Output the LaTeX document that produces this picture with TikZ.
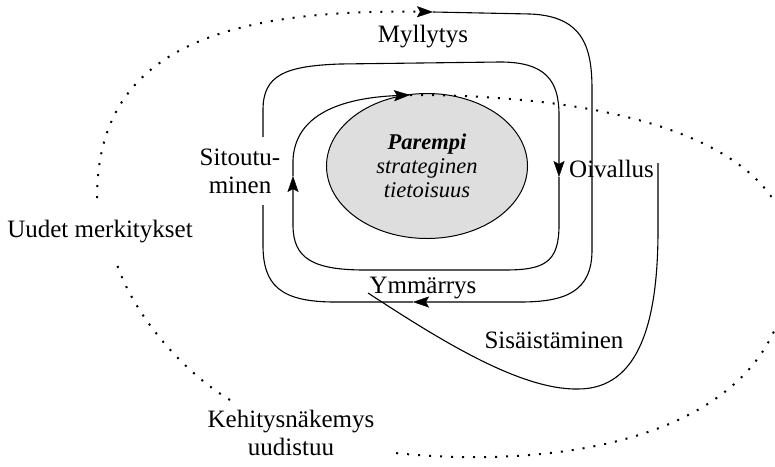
\documentclass[tikz,border=0pt]{standalone}
\usepackage{fontspec}
\setmainfont{Liberation Serif}
\usetikzlibrary{arrows.meta,shapes.geometric}
\begin{document}
\begin{tikzpicture}[x=1pt,y=-1pt,
  flow/.style={line width=1.1pt},
  tip/.style={-{Stealth[length=16pt,width=11pt,inset=3pt,line width=0.4pt]}},
  dots/.style={line width=2pt, dash pattern=on 2pt off 9pt},
  lbl/.style={font=\fontsize{25}{28}\selectfont, inner sep=0pt},
]
\useasboundingbox (0,0) rectangle (775,466);
\clip (0,0) rectangle (775,466);

% central goal
\node[ellipse, draw, line width=1pt, fill=black!13, minimum width=201pt,
      minimum height=145pt, inner sep=0pt, align=center,
      font=\fontsize{22.5}{24}\selectfont\itshape] (core) at (427,166)
      {\textbf{Parempi}\\strateginen\\tietoisuus};

% turning points of the spiral
\coordinate (inA)   at (433,12);
\coordinate (ymA)   at (413,302);
\coordinate (oiA)   at (559,177);
\coordinate (siA)   at (293,176);
\coordinate (coreA) at (410,95);
\coordinate (sisS)  at (368,293);
\coordinate (sisE)  at (658,163);
\coordinate (kehE)  at (395,453);
\coordinate (kehS)  at (230,400);
\coordinate (uuE)   at (115,258);
\coordinate (uuS)   at (97,198);

% solid spiral, outer turn to the core
\draw[flow,tip] (inA) -- (530,14) .. controls (585,16) and (592,50) .. (592,90)
  -- (592,250) .. controls (592,292) and (565,302) .. (520,302) -- (ymA);
\draw[flow,tip] (ymA) -- (335,302) .. controls (280,302) and (263,285) .. (263,245)
  -- (263,110) .. controls (263,75) and (285,66) .. (340,64)
  -- (500,62) .. controls (545,62) and (559,80) .. (559,115) -- (oiA);
\draw[flow,tip] (oiA) -- (559,225) .. controls (559,262) and (545,270) .. (505,270)
  -- (365,270) .. controls (312,270) and (293,258) .. (293,225) -- (siA);
\draw[flow,tip] (siA) -- (293,160) .. controls (295,115) and (340,98) .. (coreA);

% internalisation loop
\draw[flow] (sisS) .. controls (440,340) and (520,390) .. (578,389)
  .. controls (640,389) and (658,320) .. (658,230) -- (sisE);

% dotted outer path
\draw[dots] (coreA) .. controls (650,95) and (790,155) .. (790,255)
  .. controls (790,440) and (560,470) .. (kehE);
\draw[dots] (kehS) .. controls (180,370) and (130,310) .. (uuE);
\draw[dots,tip] (uuS) .. controls (97,65) and (195,8) .. (inA);

% labels
\node[lbl, anchor=base] (myl) at (423,42) {Myllytys};
\node[lbl, anchor=base west] (oiv) at (569,177) {Oivallus};
\node[lbl, anchor=base] (ymm) at (423,293) {Ymmärrys};
\node[lbl, anchor=base] (sis) at (554,348) {Sisäistäminen};
\node[lbl, anchor=base] (uud) at (100,237) {Uudet merkitykset};
\node[lbl, align=center] (keh) at (291,433) {Kehitysnäkemys\\uudistuu};
\node[lbl, align=center, fill=white, inner xsep=2pt, inner ysep=12pt] (sit)
  at (240,171) {Sitoutu-\\minen};
\end{tikzpicture}
\end{document}
